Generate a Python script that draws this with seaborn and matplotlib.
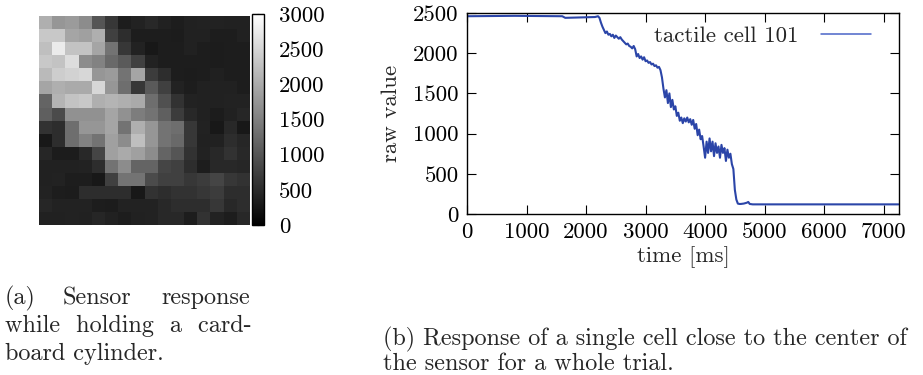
import numpy as np
import pandas as pd
import matplotlib
matplotlib.use("Agg")
import matplotlib.pyplot as plt
import seaborn as sns

# ---------------- data ----------------
# (a) 16x16 tactile sensor image, raw values (0..3000)
sensor_rows = [
    [2060, 1760, 1820, 1650, 1000, 650, 350, 410, 470, 390, 350, 390, 410, 410, 390, 390],
    [2350, 2350, 1940, 1880, 2060, 760, 530, 350, 350, 350, 330, 390, 390, 350, 350, 390],
    [2240, 2760, 2290, 2290, 1940, 1350, 650, 410, 290, 350, 350, 390, 350, 330, 350, 350],
    [2350, 2290, 2590, 1650, 1530, 1240, 1060, 760, 410, 350, 350, 350, 350, 330, 350, 350],
    [2180, 2410, 2470, 2530, 1760, 1820, 1350, 1940, 710, 530, 350, 330, 350, 380, 350, 350],
    [1940, 2060, 2000, 2000, 2530, 1760, 1290, 650, 1060, 760, 410, 350, 390, 390, 390, 350],
    [1180, 2120, 2290, 2350, 2060, 2120, 2060, 2000, 1290, 940, 590, 410, 390, 390, 410, 410],
    [1120, 880, 1710, 1710, 1710, 1940, 1710, 1470, 1350, 1120, 710, 470, 390, 330, 390, 450],
    [590, 530, 1290, 1760, 1760, 1940, 1350, 2060, 1760, 1350, 1290, 650, 410, 290, 470, 290],
    [290, 530, 1290, 1530, 1350, 1880, 1650, 2240, 1760, 1350, 1240, 650, 390, 390, 530, 450],
    [450, 330, 330, 470, 820, 1880, 2000, 1880, 1650, 1180, 1000, 590, 410, 470, 590, 470],
    [390, 390, 390, 410, 530, 1350, 1650, 1180, 1180, 820, 760, 530, 350, 470, 470, 450],
    [390, 410, 350, 350, 290, 760, 1350, 1350, 880, 760, 760, 650, 710, 820, 650, 590],
    [410, 350, 330, 530, 530, 530, 530, 290, 590, 530, 590, 590, 650, 710, 530, 530],
    [450, 410, 410, 410, 350, 330, 410, 410, 410, 470, 530, 530, 530, 650, 470, 530],
    [390, 390, 410, 390, 450, 390, 350, 390, 410, 470, 470, 350, 590, 410, 350, 470],
]
cbar_ticks = [0, 500, 1000, 1500, 2000, 2500, 3000]

# (b) single cell response over time
time_ms = [0, 800, 1600, 1650, 2150, 2200,
           2225, 2250, 2275, 2300, 2325, 2350, 2375, 2400, 2425, 2450, 2475, 2500,
           2525, 2550, 2575, 2600, 2625, 2650, 2675, 2700, 2725, 2750, 2775, 2800,
           2825, 2850, 2875, 2900, 2925, 2950, 2975, 3000, 3025, 3050, 3075, 3100,
           3125, 3150, 3175, 3200, 3225, 3250, 3275, 3300, 3325, 3350, 3375, 3400,
           3425, 3450, 3475, 3500, 3525, 3550, 3575, 3600, 3625, 3650, 3675, 3700,
           3725, 3750, 3775, 3800, 3825, 3850, 3875, 3900, 3925, 3950, 3975, 4000,
           4025, 4050, 4075, 4100, 4125, 4150, 4175, 4200, 4225, 4250, 4275, 4300,
           4325, 4350, 4375, 4400, 4425, 4450, 4475, 4500, 4525, 4550, 4575, 4600,
           4650, 4700, 4725, 4750, 4800, 6000, 7250]
raw_value = [2460, 2465, 2460, 2440, 2450, 2460,
             2440, 2380, 2330, 2290, 2250, 2270, 2230, 2240, 2210, 2230, 2190, 2220,
             2200, 2180, 2200, 2170, 2150, 2130, 2110, 2120, 2090, 2080, 2060, 2090,
             2050, 1960, 1990, 1940, 1960, 1920, 1950, 1900, 1910, 1880, 1890, 1860,
             1870, 1840, 1850, 1820, 1830, 1790, 1700, 1560, 1450, 1540, 1380, 1500,
             1330, 1420, 1300, 1340, 1220, 1260, 1160, 1200, 1130, 1190, 1150, 1200,
             1140, 1180, 1110, 1170, 1060, 1120, 980, 1050, 930, 970, 840, 700,
             900, 760, 940, 780, 900, 720, 880, 760, 840, 700, 860, 760,
             820, 660, 800, 700, 750, 620, 560, 300, 180, 130, 125, 125,
             130, 140, 150, 125, 120, 120, 120]
x_ticks = [0, 1000, 2000, 3000, 4000, 5000, 6000, 7000]
y_ticks = [0, 500, 1000, 1500, 2000, 2500]
series_label = "tactile cell 101"

# ---------------- style ----------------
sns.set_theme(style="ticks")
plt.rcParams["font.family"] = ["cmr10", "DejaVu Serif"]
plt.rcParams["axes.formatter.use_mathtext"] = True
plt.rcParams["mathtext.fontset"] = "cm"
FS = 16.5     # tick / axis label size
CFS = 17.4    # caption size

fig = plt.figure(figsize=(9.23, 3.75), dpi=100)

# ---- (a) heatmap ----
ax1 = fig.add_axes([0.0423, 0.400, 0.2286, 0.557])
cax = fig.add_axes([0.2735, 0.400, 0.0125, 0.563])
sns.heatmap(np.array(sensor_rows), cmap="gray", vmin=0, vmax=3000, ax=ax1,
            cbar_ax=cax, xticklabels=False, yticklabels=False,
            cbar_kws={"ticks": cbar_ticks})
ax1.tick_params(left=False, bottom=False)
cax.tick_params(labelsize=FS, length=5, width=0.8, direction="in", right=True,
                left=True, pad=11, colors="black")
cax.set_yticklabels([str(t) for t in cbar_ticks])
cbar = ax1.collections[0].colorbar
cbar.outline.set_visible(True)
cbar.outline.set_edgecolor("black")
cbar.outline.set_linewidth(1.0)

# ---- (b) line plot ----
ax2 = fig.add_axes([0.506, 0.4293, 0.468, 0.536])
df = pd.DataFrame({"time [ms]": time_ms, "raw value": raw_value})
sns.lineplot(data=df, x="time [ms]", y="raw value", ax=ax2, color="#2b45a8",
             linewidth=1.5, label=series_label)
ax2.set_xlim(0, 7258)
ax2.set_ylim(0, 2500)
ax2.set_xticks(x_ticks)
ax2.set_yticks(y_ticks)
ax2.set_xticklabels([str(t) for t in x_ticks])
ax2.set_yticklabels([str(t) for t in y_ticks])
ax2.tick_params(direction="in", length=6.5, width=0.8, top=True, right=True,
                labelsize=FS, colors="black", pad=6)
ax2.set_xlabel("time [ms]", fontsize=FS, labelpad=3)
ax2.set_ylabel("raw value", fontsize=FS, labelpad=9)
for sp in ax2.spines.values():
    sp.set_visible(True)
    sp.set_color("black")
    sp.set_linewidth(1.0)
leg = ax2.legend(loc="upper right", frameon=False, fontsize=FS, markerfirst=False,
                 handlelength=2.2, handletextpad=1.0, borderaxespad=0.15,
                 bbox_to_anchor=(0.965, 1.0))
for line in leg.get_lines():
    line.set_color("#4a64c8")
    line.set_linewidth(1.1)

# ---- captions ----
def px(x, y):
    return x / 923, 1 - y / 375

fig.text(*px(5, 298), "(a)", fontsize=CFS, va="center", ha="left")
fig.text(*px(97, 298), "Sensor", fontsize=CFS, va="center", ha="center")
fig.text(*px(250, 298), "response", fontsize=CFS, va="center", ha="right")
fig.text(*px(5, 326), "while  holding  a  card-", fontsize=CFS, va="center", ha="left")
fig.text(*px(5, 354), "board cylinder.", fontsize=CFS, va="center", ha="left")
fig.text(*px(383, 339), "(b) Response of a single cell close to the center of",
         fontsize=CFS, va="center", ha="left")
fig.text(*px(383, 364), "the sensor for a whole trial.", fontsize=CFS,
         va="center", ha="left")

fig.savefig("out.png", dpi=100)
